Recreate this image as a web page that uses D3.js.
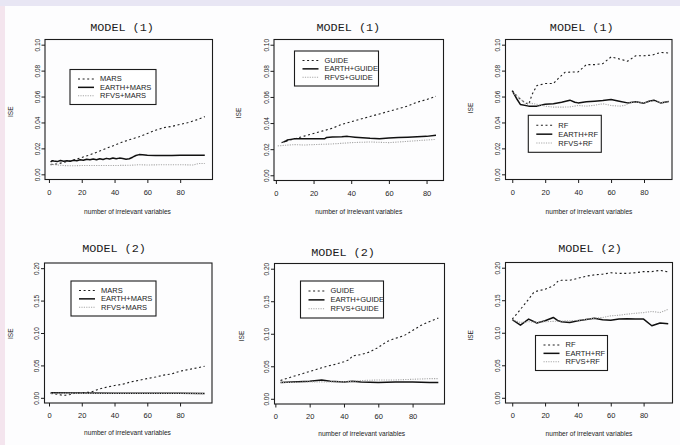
<!DOCTYPE html>
<html lang="en">
<head>
  <meta charset="UTF-8">
  <script src="https://cdn.jsdelivr.net/npm/d3@7"></script>
  <title>ISE vs irrelevant variables</title>
  <style>
    body { margin: 0; background: #fff; }
    svg { display: block; }
  </style>
</head>
<body>
<script>
  // tick labels
  var xTicks = [0, 20, 40, 60, 80];
  var yTicksTop = [0, 0.02, 0.04, 0.06, 0.08, 0.10];
  var yTicksBottom = [0, 0.05, 0.10, 0.15, 0.20];

  // MODEL (1) - MARS
  var mars1X = [1, 5, 10, 15, 20, 25, 30, 35, 40, 45, 50, 55, 60, 65, 70, 75, 80, 85, 90, 95];
  var mars1Y = [0.0075, 0.008, 0.0095, 0.011, 0.013, 0.015, 0.0175, 0.020, 0.0225, 0.025, 0.027, 0.029, 0.0315, 0.034, 0.036, 0.037, 0.0385, 0.040, 0.042, 0.0445];
  var earthMars1X = [1, 2, 3, 5, 7, 9, 11, 13, 15, 17, 19, 21, 23, 25, 27, 29, 31, 33, 35, 37, 39, 41, 43, 45, 47, 49, 51, 53, 55, 57, 60, 65, 70, 75, 80, 85, 90, 95];
  var earthMars1Y = [0.0095, 0.0105, 0.0102, 0.0098, 0.0106, 0.0100, 0.0104, 0.0101, 0.0108, 0.0104, 0.0112, 0.0108, 0.0116, 0.0112, 0.0118, 0.0113, 0.0120, 0.0114, 0.0123, 0.0118, 0.0126, 0.0120, 0.0125, 0.0122, 0.0117, 0.0120, 0.0132, 0.0145, 0.0152, 0.0150, 0.0147, 0.0145, 0.0145, 0.0146, 0.0147, 0.0148, 0.0148, 0.0148];
  var rfvsMars1X = [1, 5, 10, 15, 20, 30, 40, 50, 55, 60, 70, 80, 88, 91, 95];
  var rfvsMars1Y = [0.0078, 0.0072, 0.0067, 0.0066, 0.0068, 0.0068, 0.0068, 0.0070, 0.0074, 0.0072, 0.0074, 0.0074, 0.0072, 0.0083, 0.0083];

  // MODEL (1) - GUIDE
  var guide1X = [3, 5, 10, 15, 20, 25, 30, 35, 40, 45, 50, 55, 60, 65, 70, 75, 80, 85];
  var guide1Y = [0.025, 0.026, 0.028, 0.030, 0.032, 0.034, 0.036, 0.039, 0.041, 0.043, 0.045, 0.047, 0.049, 0.051, 0.053, 0.056, 0.058, 0.0605];
  var earthGuide1X = [4, 5, 6, 8, 10, 15, 20, 26, 27, 30, 35, 38, 42, 46, 50, 55, 60, 65, 70, 75, 80, 85];
  var earthGuide1Y = [0.0255, 0.026, 0.027, 0.0275, 0.028, 0.028, 0.028, 0.028, 0.029, 0.0293, 0.0295, 0.0298, 0.0292, 0.0287, 0.0283, 0.028, 0.0286, 0.029, 0.0292, 0.0295, 0.0298, 0.0307];
  var rfvsGuide1X = [1, 5, 10, 15, 20, 30, 40, 50, 60, 65, 70, 80, 85];
  var rfvsGuide1Y = [0.0225, 0.023, 0.0235, 0.0232, 0.0235, 0.024, 0.025, 0.0255, 0.025, 0.0255, 0.026, 0.027, 0.0275];

  // MODEL (1) - RF
  var rf1X = [0, 5, 10, 12, 15, 20, 25, 28, 32, 40, 45, 50, 55, 60, 65, 70, 75, 80, 85, 90, 95];
  var rf1Y = [0.0641, 0.0577, 0.0538, 0.0615, 0.0685, 0.070, 0.070, 0.074, 0.0787, 0.079, 0.0846, 0.0846, 0.0854, 0.0905, 0.089, 0.0872, 0.0915, 0.0915, 0.092, 0.094, 0.0936];
  var earthRf1X = [0, 3, 5, 10, 15, 20, 25, 30, 35, 38, 40, 45, 50, 55, 60, 65, 70, 75, 80, 83, 86, 90, 95];
  var earthRf1Y = [0.0646, 0.0577, 0.0538, 0.0526, 0.0526, 0.054, 0.0544, 0.0556, 0.0572, 0.0556, 0.0551, 0.0559, 0.0564, 0.0569, 0.0577, 0.0564, 0.0551, 0.0559, 0.0549, 0.0564, 0.0572, 0.0551, 0.0562];
  var rfvsRf1X = [0, 5, 8, 10, 15, 20, 25, 30, 35, 40, 45, 50, 55, 60, 65, 68, 72, 75, 80, 85, 90, 95];
  var rfvsRf1Y = [0.0633, 0.0582, 0.0544, 0.0551, 0.054, 0.0526, 0.0518, 0.0518, 0.052, 0.0531, 0.0526, 0.0533, 0.0544, 0.0531, 0.0526, 0.0531, 0.0555, 0.0558, 0.0552, 0.0565, 0.0553, 0.056];

  // MODEL (2) - MARS
  var mars2X = [1, 5, 8, 10, 13, 15, 20, 25, 28, 30, 35, 40, 45, 50, 55, 60, 65, 70, 75, 80, 85, 90, 95];
  var mars2Y = [0.0066, 0.0056, 0.004, 0.004, 0.005, 0.0066, 0.0077, 0.0087, 0.0107, 0.0133, 0.0164, 0.019, 0.021, 0.0246, 0.027, 0.0297, 0.032, 0.035, 0.037, 0.041, 0.0435, 0.046, 0.0486];
  var earthMars2X = [1, 20, 40, 60, 80, 95];
  var earthMars2Y = [0.0078, 0.0074, 0.0072, 0.0070, 0.0069, 0.0068];
  var rfvsMars2X = [1, 20, 40, 60, 80, 95];
  var rfvsMars2Y = [0.0070, 0.0068, 0.0067, 0.0066, 0.0066, 0.0065];

  // MODEL (2) - GUIDE
  var guide2X = [3, 5, 10, 15, 20, 25, 30, 35, 40, 43, 45, 50, 55, 60, 65, 70, 75, 80, 85, 90, 95];
  var guide2Y = [0.028, 0.030, 0.034, 0.038, 0.042, 0.046, 0.050, 0.053, 0.057, 0.060, 0.066, 0.068, 0.072, 0.079, 0.088, 0.093, 0.097, 0.105, 0.113, 0.119, 0.124];
  var earthGuide2X = [3, 10, 20, 27, 32, 40, 45, 50, 60, 70, 80, 90, 95];
  var earthGuide2Y = [0.025, 0.026, 0.027, 0.029, 0.027, 0.026, 0.027, 0.026, 0.025, 0.026, 0.026, 0.025, 0.025];
  var rfvsGuide2X = [3, 10, 20, 30, 40, 50, 60, 70, 80, 90, 95];
  var rfvsGuide2Y = [0.025, 0.025, 0.026, 0.026, 0.026, 0.028, 0.029, 0.029, 0.030, 0.031, 0.031];

  // MODEL (2) - RF
  var rf2X = [0, 3, 5, 10, 13, 15, 20, 25, 28, 30, 35, 40, 45, 50, 55, 60, 65, 70, 75, 80, 85, 90, 95];
  var rf2Y = [0.121, 0.1296, 0.136, 0.1515, 0.1617, 0.164, 0.1668, 0.172, 0.1796, 0.1806, 0.1806, 0.1837, 0.187, 0.189, 0.190, 0.1923, 0.1913, 0.1913, 0.1923, 0.194, 0.194, 0.196, 0.1934];
  var earthRf2X = [0, 5, 10, 15, 20, 25, 28, 30, 35, 40, 45, 50, 55, 60, 65, 70, 75, 80, 85, 90, 95];
  var earthRf2Y = [0.12, 0.1117, 0.121, 0.115, 0.1184, 0.1235, 0.1184, 0.1168, 0.1158, 0.1184, 0.1204, 0.1224, 0.12, 0.1194, 0.121, 0.1214, 0.121, 0.121, 0.1107, 0.115, 0.1138];
  var rfvsRf2X = [0, 5, 10, 15, 20, 30, 40, 50, 55, 60, 65, 70, 75, 80, 85, 90, 95];
  var rfvsRf2Y = [0.12, 0.1158, 0.117, 0.116, 0.117, 0.118, 0.119, 0.1224, 0.1235, 0.126, 0.127, 0.1286, 0.130, 0.131, 0.1327, 0.131, 0.136];

  var namesMars = ["MARS", "EARTH+MARS", "RFVS+MARS"];
  var namesGuide = ["GUIDE", "EARTH+GUIDE", "RFVS+GUIDE"];
  var namesRf = ["RF", "EARTH+RF", "RFVS+RF"];

  // panel layout (pixel boxes)
  var panels = [
    { box: [45, 39.5, 212.5, 179.5], xdom: [-2.4, 99.7], ydom: [-0.004, 0.104], yTicks: yTicksTop,
      title: ["MODEL (1)", 122, 31], xlab: [127.5, 213.5], ise: [10.7, 111.7], legend: [70, 69.5, 86, 35],
      names: namesMars, series: [[mars1X, mars1Y], [earthMars1X, earthMars1Y], [rfvsMars1X, rfvsMars1Y]] },
    { box: [274, 39.5, 443.5, 180.5], xdom: [-1, 89], ydom: [-0.004, 0.104], yTicks: yTicksTop,
      title: ["MODEL (1)", 348.3, 31], xlab: [358.8, 213.5], ise: [238.3, 113], legend: [294.5, 51, 84, 35],
      names: namesGuide, series: [[guide1X, guide1Y], [earthGuide1X, earthGuide1Y], [rfvsGuide1X, rfvsGuide1Y]] },
    { box: [505.5, 39.5, 672, 179.5], xdom: [-4.1, 97], ydom: [-0.004, 0.104], yTicks: yTicksTop,
      title: ["MODEL (1)", 581.7, 30.5], xlab: [589, 213.5], ise: [470.7, 108], legend: [528.3, 115.3, 73, 37],
      names: namesRf, series: [[rf1X, rf1Y], [earthRf1X, earthRf1Y], [rfvsRf1X, rfvsRf1Y]] },
    { box: [44.5, 263, 212, 403], xdom: [-2.75, 99.5], ydom: [-0.008, 0.208], yTicks: yTicksBottom,
      title: ["MODEL (2)", 114, 251.5], xlab: [127.5, 435], ise: [10, 333.7], legend: [71, 281, 85, 35],
      names: namesMars, series: [[mars2X, mars2Y], [earthMars2X, earthMars2Y], [rfvsMars2X, rfvsMars2Y]] },
    { box: [274.5, 263.5, 444.5, 404], xdom: [-0.5, 98.6], ydom: [-0.008, 0.208], yTicks: yTicksBottom,
      title: ["MODEL (2)", 343, 256], xlab: [361.7, 435.5], ise: [241, 336], legend: [300.5, 281, 83, 37],
      names: namesGuide, series: [[guide2X, guide2Y], [earthGuide2X, earthGuide2Y], [rfvsGuide2X, rfvsGuide2Y]] },
    { box: [505.5, 262.5, 672.5, 403], xdom: [-4.1, 97.6], ydom: [-0.008, 0.208], yTicks: yTicksBottom,
      title: ["MODEL (2)", 590, 252], xlab: [589, 435.5], ise: [470.7, 335.3], legend: [535.5, 335.5, 72, 35],
      names: namesRf, series: [[rf2X, rf2Y], [earthRf2X, earthRf2Y], [rfvsRf2X, rfvsRf2Y]] }
  ];

  // line styles: dashed method, solid EARTH+, dotted grey RFVS+
  var styles = [
    { stroke: "#1e1e1e", width: 1.1, dash: "2,2.6" },
    { stroke: "#111", width: 1.5, dash: null },
    { stroke: "#a8a8a8", width: 1.1, dash: "1.2,1.2" }
  ];

  var width = 680, height = 445;
  var ink = "#1c1c1c";

  var svg = d3.select("body").append("svg")
    .attr("width", width)
    .attr("height", height);

  // scan edges
  svg.append("rect").attr("x", 0).attr("y", 0).attr("width", width).attr("height", height).attr("fill", "#fdfdfe");
  svg.append("rect").attr("x", 0).attr("y", 0).attr("width", 5).attr("height", height).attr("fill", "#f4e5ee");
  svg.append("rect").attr("x", 0).attr("y", 0).attr("width", width).attr("height", 6).attr("fill", "#e8e6f4");

  panels.forEach(function (p) {
    var x = d3.scaleLinear().domain(p.xdom).range([p.box[0], p.box[2]]);
    var y = d3.scaleLinear().domain(p.ydom).range([p.box[3], p.box[1]]);
    var g = svg.append("g");

    // curves
    p.series.forEach(function (s, i) {
      var pts = s[0].map(function (v, k) { return [v, s[1][k]]; });
      var line = d3.line().x(function (d) { return x(d[0]); }).y(function (d) { return y(d[1]); });
      var path = g.append("path")
        .datum(pts)
        .attr("d", line)
        .attr("fill", "none")
        .attr("stroke", styles[i].stroke)
        .attr("stroke-width", styles[i].width)
        .attr("stroke-linejoin", "round");
      if (styles[i].dash) path.attr("stroke-dasharray", styles[i].dash);
    });

    // axes
    var xAxis = g.append("g")
      .attr("transform", "translate(0," + p.box[3] + ")")
      .call(d3.axisBottom(x).tickValues(xTicks).tickSize(3.5).tickSizeOuter(0).tickPadding(6.5));
    xAxis.selectAll("text").attr("font-size", 7.5).attr("font-family", "Liberation Sans, Arial, sans-serif").attr("fill", ink);

    var yAxis = g.append("g")
      .attr("transform", "translate(" + p.box[0] + ",0)")
      .call(d3.axisLeft(y).tickValues(p.yTicks).tickFormat(d3.format(".2f")).tickSize(3.5).tickSizeOuter(0));
    yAxis.selectAll("text")
      .attr("x", null).attr("dy", null)
      .attr("text-anchor", "middle")
      .attr("transform", "translate(-5.5,0) rotate(-90)")
      .attr("font-size", 6.5)
      .attr("font-family", "Liberation Sans, Arial, sans-serif")
      .attr("fill", ink);
    g.selectAll(".domain").remove();
    g.selectAll(".tick line").attr("stroke", ink);

    // frame
    g.append("rect")
      .attr("x", p.box[0]).attr("y", p.box[1])
      .attr("width", p.box[2] - p.box[0]).attr("height", p.box[3] - p.box[1])
      .attr("fill", "none").attr("stroke", ink).attr("stroke-width", 1.1);

    // title
    g.append("text")
      .attr("x", p.title[1]).attr("y", p.title[2])
      .attr("text-anchor", "middle")
      .attr("font-family", "Liberation Mono, DejaVu Sans Mono, monospace")
      .attr("font-size", 11.8)
      .attr("fill", ink)
      .text(p.title[0]);

    // x label
    g.append("text")
      .attr("x", p.xlab[0]).attr("y", p.xlab[1])
      .attr("text-anchor", "middle")
      .attr("font-family", "Liberation Sans, Arial, sans-serif")
      .attr("font-size", 6.6)
      .attr("fill", ink)
      .text("number of irrelevant variables");

    // y label
    g.append("text")
      .attr("transform", "translate(" + p.ise[0] + "," + p.ise[1] + ") rotate(-90)")
      .attr("text-anchor", "middle")
      .attr("dominant-baseline", "central")
      .attr("font-family", "Liberation Sans, Arial, sans-serif")
      .attr("font-size", 6.6)
      .attr("fill", ink)
      .text("ISE");

    // legend
    var L = p.legend;
    var leg = g.append("g").attr("transform", "translate(" + L[0] + "," + L[1] + ")");
    leg.append("rect")
      .attr("width", L[2]).attr("height", L[3])
      .attr("fill", "#fff").attr("stroke", ink).attr("stroke-width", 1.1);
    p.names.forEach(function (name, i) {
      var ry = L[3] * (0.27 + i * 0.24);
      var ln = leg.append("line")
        .attr("x1", 8).attr("x2", 24).attr("y1", ry).attr("y2", ry)
        .attr("stroke", styles[i].stroke).attr("stroke-width", styles[i].width);
      if (styles[i].dash) ln.attr("stroke-dasharray", styles[i].dash);
      leg.append("text")
        .attr("x", 30).attr("y", ry)
        .attr("dominant-baseline", "central")
        .attr("font-family", "Liberation Sans, Arial, sans-serif")
        .attr("font-size", 7.5)
        .attr("fill", ink)
        .text(name);
    });
  });
</script>
</body>
</html>
